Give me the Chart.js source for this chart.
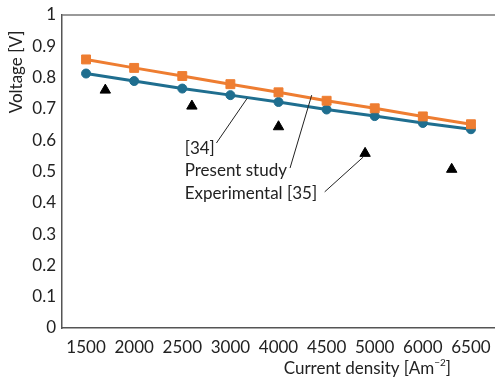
<!DOCTYPE html>
<html>
<head>
<meta charset="utf-8">
<script src="https://cdn.jsdelivr.net/npm/chart.js@4"></script>
<style>
html,body{margin:0;padding:0;background:#fff;}
#wrap{width:495px;height:381px;position:relative;}
</style>
</head>
<body>
<div id="wrap"><canvas id="c" width="495" height="381"></canvas></div>
<script>
// ---- data ----
const categories = ['1500','2000','2500','3000','4000','4500','5000','6000','6500'];
const presentStudy = [0.858,0.831,0.805,0.779,0.753,0.726,0.702,0.676,0.651];
const ref34 = [0.813,0.789,0.765,0.744,0.722,0.698,0.677,0.655,0.635];
const expPosition = [0.4,2.2,4.0,5.8,7.6];
const experimental35 = [0.760,0.709,0.643,0.558,0.507];
const yTicks = [0,0.1,0.2,0.3,0.4,0.5,0.6,0.7,0.8,0.9,1];
const annotations = [
  {text:'[34]', x:2.05, y:0.575, from:[2.71,0.591], to:[3.35,0.734]},
  {text:'Present study', x:2.05, y:0.502, from:[4.24,0.511], to:[4.69,0.744]},
  {text:'Experimental [35]', x:2.05, y:0.431, from:[4.96,0.435], to:[5.76,0.546]}
];

const FONT = 'Lato';
const FS = 17;
const ORANGE = '#EE7D31';
const BLUE = '#1F6E8F';

const toPts = (xs, ys) => ys.map((v,i)=>({x:xs[i], y:v}));
const idx = categories.map((_,i)=>i);

const decor = {
  id:'decor',
  afterDraw(chart){
    const {ctx, chartArea:a, scales:{x,y}} = chart;
    ctx.save();
    // top border
    ctx.strokeStyle = '#777';
    ctx.lineWidth = 1.5;
    ctx.beginPath();
    ctx.moveTo(a.left, a.top); ctx.lineTo(a.right, a.top);
    ctx.stroke();
    // annotations
    ctx.fillStyle = '#222';
    ctx.font = FS + 'px ' + FONT;
    ctx.textBaseline = 'middle';
    ctx.textAlign = 'left';
    ctx.strokeStyle = '#222';
    ctx.lineWidth = 1;
    annotations.forEach(an=>{
      ctx.fillText(an.text, x.getPixelForValue(an.x), y.getPixelForValue(an.y));
      ctx.beginPath();
      ctx.moveTo(x.getPixelForValue(an.from[0]), y.getPixelForValue(an.from[1]));
      ctx.lineTo(x.getPixelForValue(an.to[0]), y.getPixelForValue(an.to[1]));
      ctx.stroke();
    });
    // y title
    ctx.save();
    ctx.translate(17, 72);
    ctx.rotate(-Math.PI/2);
    ctx.textAlign = 'center';
    ctx.fillText('Voltage [V]', 0, 0);
    ctx.restore();
    // x title
    const main = 'Current density [Am';
    const sup = '\u22122';
    const end = ']';
    ctx.font = FS + 'px ' + FONT;
    const w1 = ctx.measureText(main).width;
    const w3 = ctx.measureText(end).width;
    ctx.font = '10px ' + FONT;
    const w2 = ctx.measureText(sup).width;
    const right = 451;
    let sx = right - (w1 + w2 + w3);
    const ty = 369;
    ctx.font = FS + 'px ' + FONT;
    ctx.fillText(main, sx, ty);
    ctx.font = '10px ' + FONT;
    ctx.fillText(sup, sx + w1, ty - 6);
    ctx.font = FS + 'px ' + FONT;
    ctx.fillText(end, sx + w1 + w2, ty);
    ctx.restore();
  }
};

new Chart(document.getElementById('c'), {
  type:'line',
  data:{
    datasets:[
      {label:'Present study', data:toPts(idx, presentStudy), borderColor:ORANGE, backgroundColor:ORANGE,
       borderWidth:3, pointStyle:'rect', pointRadius:6.3, pointHoverRadius:6.3, pointBorderWidth:1, order:1},
      {label:'[34]', data:toPts(idx, ref34), borderColor:BLUE, backgroundColor:BLUE,
       borderWidth:3, pointStyle:'circle', pointRadius:4.5, pointHoverRadius:4.5, pointBorderWidth:1, order:2},
      {label:'Experimental [35]', data:toPts(expPosition, experimental35), showLine:false,
       borderColor:'#000', backgroundColor:'#000', pointStyle:'triangle', pointRadius:6, pointHoverRadius:6, pointBorderWidth:1, order:0}
    ]
  },
  options:{
    responsive:false,
    animation:false,
    devicePixelRatio:1,
    layout:{autoPadding:false, padding:{top:15, right:0, left:0, bottom:0}},
    plugins:{legend:{display:false}, tooltip:{enabled:false}},
    scales:{
      x:{
        type:'linear', min:-0.5, max:8.5,
        afterBuildTicks(s){ s.ticks = idx.map(v=>({value:v})); },
        afterFit(s){ s.height = 53; s.paddingLeft = 0; s.paddingRight = 0; },
        ticks:{callback:(v)=>categories[v] ?? '', color:'#222', font:{family:FONT, size:FS}, padding:9, maxRotation:0, autoSkip:false},
        grid:{display:false, drawTicks:false},
        border:{color:'#555', width:1.5}
      },
      y:{
        min:0, max:1,
        afterBuildTicks(s){ s.ticks = yTicks.map(v=>({value:v})); },
        afterFit(s){ s.width = 62; s.paddingTop = 0; s.paddingBottom = 0; },
        ticks:{callback:(v)=>String(+v.toFixed(1)), color:'#222', font:{family:FONT, size:FS}, padding:6},
        grid:{display:false, drawTicks:false},
        border:{color:'#555', width:1.5}
      }
    }
  },
  plugins:[decor]
});
</script>
</body>
</html>
